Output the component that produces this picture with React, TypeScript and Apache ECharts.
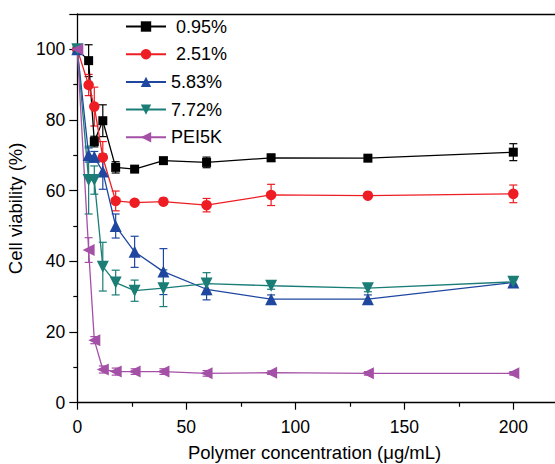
import React, { useEffect, useRef } from "react";
import * as echarts from "echarts";

const concentrations = [0, 5.2, 7.8, 11.7, 17.6, 26.3, 39.5, 59.3, 88.9, 133.3, 200];

const seriesNames = ["0.95%", "2.51%", "5.83%", "7.72%", "PEI5K"];

const v095 = [100, 96.8, 73.9, 79.8, 66.6, 66.1, 68.5, 68.0, 69.3, 69.2, 70.9];
const e095 = [0.5, 4.5, 1.5, 4.5, 1.6, 0.6, 0.8, 1.5, 1.0, 0.8, 2.4];

const v251 = [100, 89.9, 83.8, 69.4, 57.1, 56.6, 56.9, 55.9, 58.8, 58.6, 59.1];
const e251 = [0.5, 3.0, 5.5, 4.5, 2.8, 0.6, 0.6, 1.9, 3.0, 0.8, 2.5];

const v583 = [100, 70.1, 69.6, 65.4, 50.0, 42.7, 37.1, 32.1, 29.3, 29.3, 34.0];
const e583 = [0.5, 2.0, 1.5, 5.0, 3.4, 4.4, 6.5, 3.0, 1.2, 1.2, 0.8];

const v772 = [100, 63.0, 63.0, 38.5, 34.0, 31.7, 32.4, 33.7, 33.1, 32.4, 34.2];
const e772 = [0.5, 9.6, 4.0, 6.9, 3.5, 3.0, 5.2, 3.1, 1.0, 1.0, 1.0];

const vPEI = [100, 43.2, 17.7, 9.4, 8.8, 8.8, 8.8, 8.3, 8.5, 8.3, 8.3];
const ePEI = [0.5, 3.5, 1.0, 1.0, 1.0, 0.8, 0.8, 0.8, 0.5, 0.5, 0.5];

const xTicks = [0, 50, 100, 150, 200];
const yTicks = [0, 20, 40, 60, 80, 100];

const FONT = "'Liberation Sans', Arial, sans-serif";

const colors = ["#000000", "#ee1d23", "#1f47a0", "#1a7d76", "#a450a6"];
const symbols = ["rect", "circle", "triangle", "triangle", "triangle"];
const rotates = [0, 0, 0, 180, 90];
const sizes = [9, 10.5, 12, 12, 12];

export default function App() {
  const ref = useRef<HTMLDivElement>(null);
  useEffect(() => {
    if (!ref.current) return;
    const chart = echarts.init(ref.current, null, { renderer: "svg" });
    const values = [v095, v251, v583, v772, vPEI];
    const errs = [e095, e251, e583, e772, ePEI];

    const lineSeries: any[] = values.map((vals, i) => ({
      type: "line",
      name: seriesNames[i],
      data: concentrations.map((x, k) => [x, vals[k]]),
      symbol: symbols[i],
      symbolSize: sizes[i],
      symbolRotate: rotates[i],
      lineStyle: { color: colors[i], width: 1.3 },
      itemStyle: { color: colors[i], borderWidth: 0 },
      z: 3,
    }));

    const errSeries: any[] = values.map((vals, i) => ({
      type: "custom",
      name: "err" + i,
      data: concentrations.map((x, k) => [x, vals[k], errs[i][k]]),
      z: 2,
      silent: true,
      renderItem: (params: any, api: any) => {
        const x = api.value(0);
        const y = api.value(1);
        const e = api.value(2);
        const t = api.coord([x, y + e]);
        const b = api.coord([x, y - e]);
        const cw = 4;
        const style = { stroke: colors[i], lineWidth: 1.2 };
        return {
          type: "group",
          children: [
            { type: "line", shape: { x1: t[0], y1: t[1], x2: b[0], y2: b[1] }, style },
            { type: "line", shape: { x1: t[0] - cw, y1: t[1], x2: t[0] + cw, y2: t[1] }, style },
            { type: "line", shape: { x1: b[0] - cw, y1: b[1], x2: b[0] + cw, y2: b[1] }, style },
          ],
        };
      },
    }));

    const axisLine = { show: true, lineStyle: { color: "#000", width: 1.3 } };

    chart.setOption({
      animation: false,
      textStyle: { fontFamily: FONT },
      grid: {
        left: 77.3,
        top: 14,
        width: 490.5,
        height: 388.7,
        containLabel: false,
        outerBoundsMode: "none",
      },
      legend: {
        data: seriesNames,
        orient: "vertical",
        left: 120,
        top: 12.5,
        itemWidth: 40,
        itemHeight: 13,
        itemGap: 9.7,
        formatter: (name: string) => (name === "0.95%" || name === "2.51%" ? " " + name : name),
        textStyle: { fontSize: 18, color: "#000", fontFamily: FONT },
      },
      xAxis: [
        {
          type: "value",
          min: 0,
          max: 225,
          interval: 50,
          name: "Polymer concentration (\u03bcg/mL)",
          nameLocation: "middle",
          nameGap: 40,
          nameTextStyle: { fontSize: 18.5, color: "#000", fontFamily: FONT, padding: [0, 16, 0, 0] },
          axisLine,
          axisTick: { show: true, inside: false, length: 7, lineStyle: { color: "#000", width: 1.2 } },
          minorTick: { show: true, splitNumber: 2, length: 4, lineStyle: { color: "#000", width: 1.2 } },
          axisLabel: {
            fontSize: 17.5,
            color: "#000",
            margin: 15,
            showMaxLabel: false,
            formatter: (v: number) => (xTicks.includes(v) ? String(v) : ""),
          },
          splitLine: { show: false },
        },
        {
          type: "value",
          position: "top",
          min: 0,
          max: 225,
          axisLine,
          axisTick: { show: false },
          axisLabel: { show: false },
          splitLine: { show: false },
        },
      ],
      yAxis: {
        type: "value",
        min: 0,
        max: 110,
        interval: 20,
        name: "Cell viability (%)",
        nameLocation: "middle",
        nameGap: 47,
        nameTextStyle: { fontSize: 18.5, color: "#000", fontFamily: FONT },
        axisLine,
        axisTick: { show: true, inside: false, length: 8, lineStyle: { color: "#000", width: 1.2 } },
        minorTick: { show: true, splitNumber: 2, length: 4, lineStyle: { color: "#000", width: 1.2 } },
        axisLabel: {
          fontSize: 17.5,
          color: "#000",
          margin: 12,
          showMaxLabel: false,
          formatter: (v: number) => (yTicks.includes(v) ? String(v) : ""),
        },
        splitLine: { show: false },
      },
      series: [...errSeries, ...lineSeries],
    });
    return () => chart.dispose();
  }, []);
  return (
    <div
      ref={ref}
      style={{ position: "fixed", left: 0, top: 0, width: 555, height: 464, background: "#fff" }}
    />
  );
}
